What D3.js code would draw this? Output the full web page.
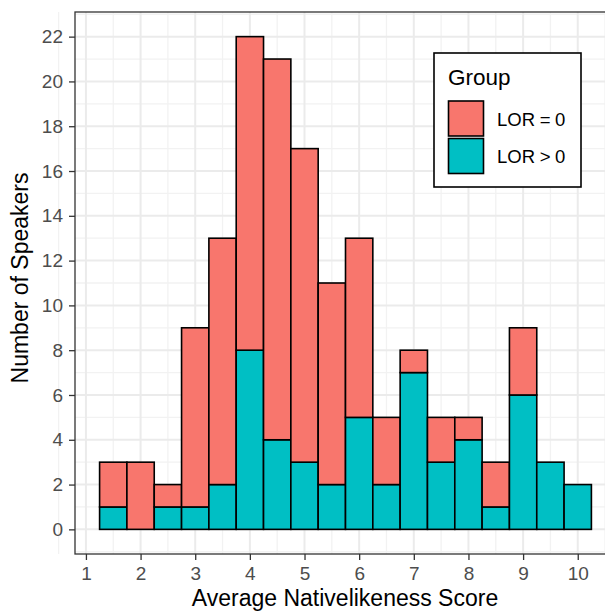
<!DOCTYPE html>
<html>
<head>
<meta charset="utf-8">
<script src="https://cdn.jsdelivr.net/npm/d3@7"></script>
<style>
  body { margin: 0; background: #fff; }
  svg { display: block; font-family: "Liberation Sans", Arial, sans-serif; }
</style>
</head>
<body>
<svg id="chart"></svg>
<script>
// bin left edges (width 0.5)
var binStarts = [1.25, 1.75, 2.25, 2.75, 3.25, 3.75, 4.25, 4.75, 5.25,
                 5.75, 6.25, 6.75, 7.25, 7.75, 8.25, 8.75, 9.25, 9.75];
var binWidth = 0.5;
var lorZero = [2, 3, 1, 8, 11, 14, 17, 14, 9, 8, 3, 1, 2, 1, 2, 3, 0, 0];
var lorPos  = [1, 0, 1, 1, 2, 8, 4, 3, 2, 5, 2, 7, 3, 4, 1, 6, 3, 2];
var groups = ["LOR = 0", "LOR > 0"];
var xTicks = [1, 2, 3, 4, 5, 6, 7, 8, 9, 10];
var yTicks = [0, 2, 4, 6, 8, 10, 12, 14, 16, 18, 20, 22];

var width = 605, height = 611;
var margin = {top: 12, left: 75, bottom: 57, right: -11};
var colors = {"LOR = 0": "#F8766D", "LOR > 0": "#00BFC4"};

var svg = d3.select("#chart")
    .attr("width", width)
    .attr("height", height);

var x = d3.scaleLinear()
    .domain([0.8, 10.7])
    .range([margin.left, width - margin.right]);
var y = d3.scaleLinear()
    .domain([-1.1, 23.1])
    .range([height - margin.bottom, margin.top]);

var x0 = margin.left, x1 = width - margin.right;
var y0 = height - margin.bottom, y1 = margin.top;

// minor grid
var g = svg.append("g");
var xMinor = d3.range(0.5, 11, 1), yMinor = d3.range(-1, 24, 2);
g.selectAll(".xminor").data(xMinor).enter().append("line")
    .attr("x1", function (d) { return x(d); })
    .attr("x2", function (d) { return x(d); })
    .attr("y1", y0).attr("y2", y1)
    .attr("stroke", "#f2f2f2").attr("stroke-width", 1.3);
g.selectAll(".yminor").data(yMinor).enter().append("line")
    .attr("y1", function (d) { return y(d); })
    .attr("y2", function (d) { return y(d); })
    .attr("x1", x0).attr("x2", x1)
    .attr("stroke", "#f2f2f2").attr("stroke-width", 1.3);
// major grid
g.selectAll(".xmajor").data(xTicks).enter().append("line")
    .attr("x1", function (d) { return x(d); })
    .attr("x2", function (d) { return x(d); })
    .attr("y1", y0).attr("y2", y1)
    .attr("stroke", "#ebebeb").attr("stroke-width", 2);
g.selectAll(".ymajor").data(yTicks).enter().append("line")
    .attr("y1", function (d) { return y(d); })
    .attr("y2", function (d) { return y(d); })
    .attr("x1", x0).attr("x2", x1)
    .attr("stroke", "#ebebeb").attr("stroke-width", 2);

// bars
var rows = binStarts.map(function (b, i) {
    return {start: b, zero: lorZero[i], pos: lorPos[i]};
});
var bars = svg.append("g")
    .attr("stroke", "#000")
    .attr("stroke-width", 1.6);
rows.forEach(function (d) {
    // LOR > 0 at the bottom, LOR = 0 stacked on top
    if (d.pos > 0) {
        bars.append("rect")
            .attr("x", x(d.start))
            .attr("width", x(d.start + binWidth) - x(d.start))
            .attr("y", y(d.pos))
            .attr("height", y(0) - y(d.pos))
            .attr("fill", colors["LOR > 0"]);
    }
    if (d.zero > 0) {
        bars.append("rect")
            .attr("x", x(d.start))
            .attr("width", x(d.start + binWidth) - x(d.start))
            .attr("y", y(d.pos + d.zero))
            .attr("height", y(d.pos) - y(d.pos + d.zero))
            .attr("fill", colors["LOR = 0"]);
    }
});

// panel border
svg.append("rect")
    .attr("x", x0).attr("y", y1)
    .attr("width", x1 - x0).attr("height", y0 - y1)
    .attr("fill", "none")
    .attr("stroke", "#333")
    .attr("stroke-width", 1.3);

// axes
var xAxis = d3.axisBottom(x).tickValues(xTicks).tickSize(6).tickPadding(7);
var yAxis = d3.axisLeft(y).tickValues(yTicks).tickSize(6).tickPadding(6);

var xAxisG = svg.append("g")
    .attr("transform", "translate(0," + y0 + ")")
    .call(xAxis);
var yAxisG = svg.append("g")
    .attr("transform", "translate(" + x0 + ",0)")
    .call(yAxis);
[xAxisG, yAxisG].forEach(function (a) {
    a.attr("font-size", null).attr("font-family", null);
    a.select(".domain").remove();
    a.selectAll(".tick line").attr("stroke", "#333").attr("stroke-width", 1.3);
    a.selectAll(".tick text")
        .attr("fill", "#4d4d4d")
        .style("font-size", "19px");
});

// axis titles
svg.append("text")
    .attr("x", 345)
    .attr("y", 606)
    .attr("text-anchor", "middle")
    .style("font-size", "23px")
    .text("Average Nativelikeness Score");
svg.append("text")
    .attr("transform", "translate(28,278) rotate(-90)")
    .attr("text-anchor", "middle")
    .style("font-size", "23px")
    .text("Number of Speakers");

// legend
var lg = svg.append("g").attr("transform", "translate(434,53)");
lg.append("rect")
    .attr("width", 147).attr("height", 134)
    .attr("fill", "#fff")
    .attr("stroke", "#000").attr("stroke-width", 1.6);
lg.append("text")
    .attr("x", 14).attr("y", 32)
    .style("font-size", "22.5px")
    .text("Group");
groups.forEach(function (grp, i) {
    lg.append("rect")
        .attr("x", 14.5).attr("y", 48 + i * 37.5)
        .attr("width", 35).attr("height", 35)
        .attr("fill", colors[grp])
        .attr("stroke", "#000").attr("stroke-width", 1.6);
    lg.append("text")
        .attr("x", 63).attr("y", 73 + i * 37)
        .style("font-size", "18.5px")
        .text(grp.replace(/ /g, "\u2005"));
});
</script>
</body>
</html>
